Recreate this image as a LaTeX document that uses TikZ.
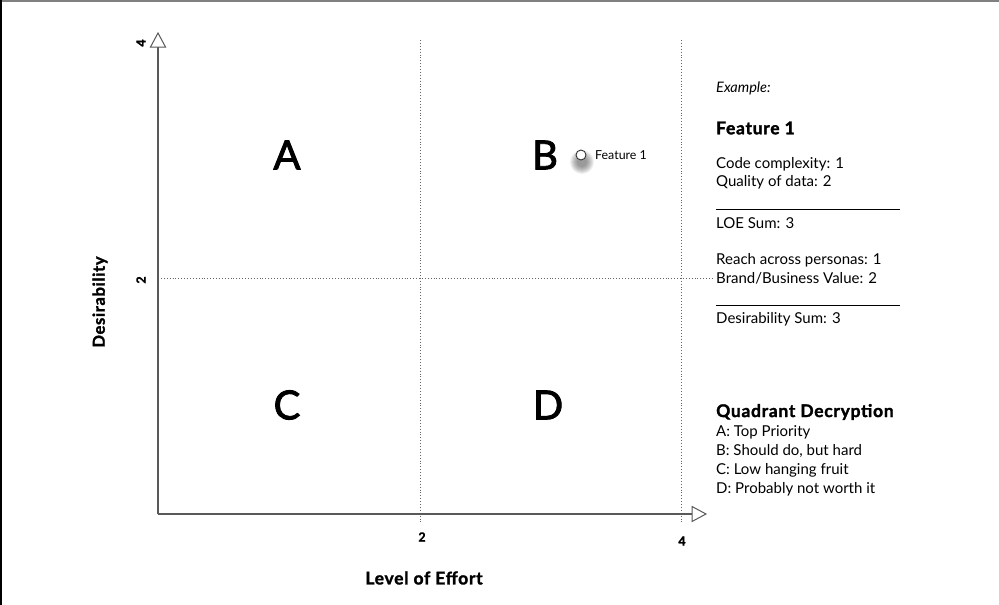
\documentclass[tikz,border=0pt]{standalone}
\usepackage{fontspec}
\setmainfont{Lato}
\newfontfamily\heavyfont{Lato}[FakeBold=1.6, LetterSpace=4]
\newfontfamily\quadfont{Lato}[FakeBold=2.2]
\usetikzlibrary{shadows}
\begin{document}
\begin{tikzpicture}[x=1pt,y=-1pt,
  axis/.style={draw=black!65, line width=1.3pt},
  grid/.style={draw=black!60, line width=0.9pt, dotted},
  quad/.style={font=\quadfont\fontsize{40}{40}\selectfont, inner sep=0pt},
  tick/.style={font=\heavyfont\bfseries\fontsize{12.5}{12.5}\selectfont, inner sep=0pt},
  info/.style={font=\fontsize{15}{15}\selectfont, anchor=west, inner sep=0pt},
  infob/.style={font=\heavyfont\bfseries\fontsize{17.5}{17.5}\selectfont, anchor=west, inner sep=0pt},
  openhead/.style={draw=black!65, fill=white, line width=1pt, line join=miter}]
\useasboundingbox (0,0) rectangle (999,605);
\fill[white] (0,0) rectangle (999,605);
\draw[black!50, line width=1.5pt] (0,1) -- (999,1);
\draw[black, line width=1.5pt] (1,0) -- (1,605);

% grid
\coordinate (v2t) at (420,40); \coordinate (v2b) at (420,522);
\coordinate (v4t) at (681,40); \coordinate (v4b) at (681,522);
\coordinate (h2l) at (158,278); \coordinate (h2r) at (712,278);
\draw[grid] (v2t) -- (v2b);
\draw[grid] (v4t) -- (v4b);
\draw[grid] (h2l) -- (h2r);

% axes
\coordinate (o) at (158,514);
\coordinate (ytop) at (158,47);
\coordinate (xend) at (692,514);
\draw[axis] (o) -- (ytop);
\draw[axis] (o) -- (xend);
\draw[openhead] (150.5,47) -- (158,33) -- (165.5,47) -- cycle;
\draw[openhead] (692,506.5) -- (706,514) -- (692,521.5) -- cycle;

% tick labels
\node[tick, rotate=90] (y4) at (141,43) {4};
\node[tick, rotate=90] (y2) at (141,280) {2};
\node[tick] (x2) at (422,537) {2};
\node[tick] (x4) at (682,541) {4};
\node[font=\heavyfont\bfseries\fontsize{16.5}{16.5}\selectfont, rotate=90] (ylab) at (100,302) {Desirability};
\node[font=\heavyfont\bfseries\fontsize{17.5}{17.5}\selectfont] (xlab) at (424,578) {Level of Effort};

% quadrants
\node[quad] (A) at (287,155) {A};
\node[quad] (B) at (545,155) {B};
\node[quad] (C) at (287,405) {C};
\node[quad] (D) at (548,405) {D};

% feature shadow (soft)
\foreach \r in {12,11,10,9,8,7,6,5}{
  \fill[black, opacity=0.06] (582,162) circle (\r);
}
\node[circle, draw=black!80, fill=white, line width=0.9pt, minimum size=10pt, inner sep=0pt] (f1) at (581,155) {};
\node[font=\fontsize{12.4}{12.4}\selectfont, anchor=west, inner sep=0pt] (f1lab) at (595,155) {Feature 1};

% info panel
\node[info, font=\fontsize{14.5}{14.5}\selectfont\itshape] (ex) at (716,88) {Example:};
\node[infob] (feat) at (716,128) {Feature 1};
\node[info] (cc) at (716,164) {Code complexity: 1};
\node[info] (qd) at (716,182) {Quality of data: 2};
\coordinate (l1a) at (716,209); \coordinate (l1b) at (900,209);
\draw[black, line width=0.8pt] (l1a) -- (l1b);
\node[info] (loe) at (716,223) {LOE Sum: 3};
\node[info] (rp) at (716,260) {Reach across personas: 1};
\node[info] (bv) at (716,278) {Brand/Business Value: 2};
\coordinate (l2a) at (716,305); \coordinate (l2b) at (900,305);
\draw[black, line width=0.8pt] (l2a) -- (l2b);
\node[info] (ds) at (716,319) {Desirability Sum: 3};

\node[infob] (qdh) at (716,412) {Quadrant Decryption};
\node[info] (qa) at (716,432) {A: Top Priority};
\node[info] (qb) at (716,451) {B: Should do, but hard};
\node[info] (qc) at (716,470) {C: Low hanging fruit};
\node[info] (qdd) at (716,489) {D: Probably not worth it};
\end{tikzpicture}
\end{document}
